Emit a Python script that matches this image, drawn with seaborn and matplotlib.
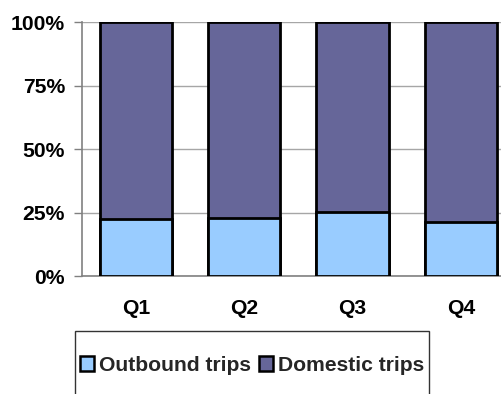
import matplotlib
matplotlib.use("Agg")
import matplotlib.pyplot as plt
from matplotlib.patches import Rectangle, Patch
import seaborn as sns
import pandas as pd

# Share of trips per quarter (%)
quarters = ["Q1", "Q2", "Q3", "Q4"]
outbound = [22.7, 23.0, 25.1, 21.4]
domestic = [77.3, 77.0, 74.9, 78.6]
y_ticks = [0, 25, 50, 75, 100]
y_tick_labels = ["0%", "25%", "50%", "75%", "100%"]

OUT_COLOR = "#99CCFF"
DOM_COLOR = "#666699"
FS = 15.2

sns.set_theme(style="white")
plt.rcParams["font.family"] = ["Liberation Sans", "DejaVu Sans"]
plt.rcParams["font.weight"] = "bold"

df = pd.DataFrame({
    "quarter": quarters,
    "outbound": outbound,
    "total": [o + d for o, d in zip(outbound, domestic)],
})

W, H = 502, 394
fig = plt.figure(figsize=(W / 100, H / 100), dpi=100)
ax = fig.add_axes([81.7 / W, 1 - 276.3 / H, (515 - 81.7) / W, 254.3 / H])

# stacked bars: full height in domestic colour, outbound part drawn over it
sns.barplot(data=df, x="quarter", y="total", color=DOM_COLOR, width=0.67,
            edgecolor="black", linewidth=2.0, saturation=1, ax=ax, zorder=3)
sns.barplot(data=df, x="quarter", y="outbound", color=OUT_COLOR, width=0.67,
            edgecolor="black", linewidth=2.0, saturation=1, ax=ax, zorder=4)

ax.set_xlim(-0.5, 3.5)
ax.set_ylim(0, 100)
ax.set_yticks(y_ticks)
ax.set_yticklabels(y_tick_labels, fontsize=FS, fontweight="bold")
ax.set_xticks(range(len(quarters)))
ax.set_xticklabels(quarters, fontsize=FS, fontweight="bold")
ax.set_xlabel("")
ax.set_ylabel("")

ax.yaxis.grid(True, color="#a6a6a6", linewidth=1.0)
ax.set_axisbelow(True)
for side in ["top", "right"]:
    ax.spines[side].set_visible(False)
for side in ["left", "bottom"]:
    ax.spines[side].set_color("#808080")
    ax.spines[side].set_linewidth(1.2)

ax.tick_params(axis="y", which="major", left=True, length=6, width=1.0,
               color="#808080", pad=6, labelcolor="black")
ax.tick_params(axis="x", which="major", bottom=False, length=0, pad=16,
               labelcolor="black")

# legend with its box drawn separately
handles = [Patch(facecolor=OUT_COLOR, edgecolor="black", linewidth=1.8, label="Outbound trips"),
           Patch(facecolor=DOM_COLOR, edgecolor="black", linewidth=1.8, label="Domestic trips")]
leg = fig.legend(handles=handles, loc="center left",
                 bbox_to_anchor=(80 / W, 1 - 365.5 / H), ncol=2, frameon=False,
                 prop={"family": "Liberation Sans", "weight": "bold", "size": FS},
                 handlelength=0.68, handleheight=0.68, handletextpad=0.2,
                 columnspacing=0.4, borderpad=0.0, borderaxespad=0.0)
fig.patches.append(Rectangle((74.5 / W, 1 - 402 / H), (429 - 74.5) / W, (402 - 330.5) / H,
                             transform=fig.transFigure, fill=False,
                             edgecolor="#333333", linewidth=1.0))

fig.savefig("out.png", dpi=100)
